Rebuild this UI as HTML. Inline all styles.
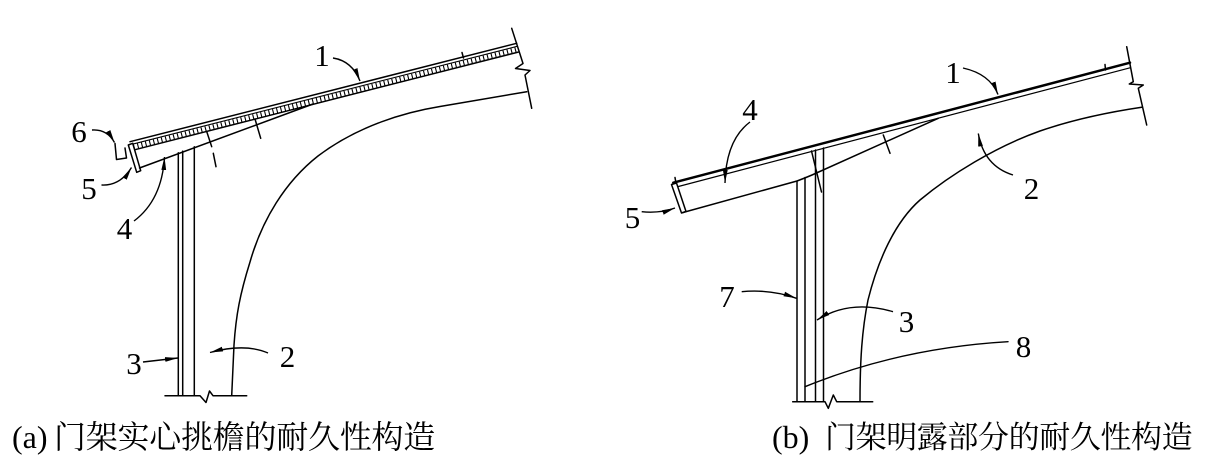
<!DOCTYPE html>
<html>
<head>
<meta charset="utf-8">
<style>
  html, body { margin: 0; padding: 0; background: #fff; }
  #wrap { position: relative; width: 1207px; height: 466px; overflow: hidden; background: #fff; }
  svg { display: block; position: absolute; left: 0; top: 0; }
  .n {
    position: absolute; width: 40px; text-align: center;
    font-family: "Liberation Serif", "Times New Roman", "DejaVu Serif", serif;
    font-size: 31px; line-height: 31px; color: #000; white-space: nowrap;
  }
  .c {
    position: absolute; white-space: nowrap; color: #000;
    font-family: "Liberation Serif", "Noto Serif CJK SC", "Noto Serif CJK TC", "Noto Serif CJK JP", serif;
  }
</style>
</head>
<body>
<div id="wrap">
<svg width="1207" height="466" viewBox="0 0 1207 466" xmlns="http://www.w3.org/2000/svg">
  <defs>
    <marker id="ah" markerUnits="userSpaceOnUse" markerWidth="13" markerHeight="6" viewBox="0 0 13 6" refX="13" refY="3" orient="auto">
      <path d="M0,0.6 L13,3 L0,5.4 z" fill="#000"/>
    </marker>
  </defs>

  <!-- ================= (a) ================= -->
  <g fill="none" stroke="#000" stroke-width="1.5" stroke-linecap="round" stroke-linejoin="round">
    <path d="M130,141.7 L516.7,43.3"/>
    <path d="M132.5,144.2 L517.2,46.3" stroke-width="1.1"/>
    <path d="M133.5,147.1 L517.8,49.3" stroke-width="5" stroke-dasharray="1.1 3" stroke-linecap="butt"/>
    <path d="M134.5,149.8 L518.2,52.1"/>
    <path d="M128.3,145 L132.7,143.3 L140.7,170.7 L136.7,172.3 Z" fill="#fff"/>
    <path d="M115,143.5 L116.5,159.5 L126.5,158 L125,148"/>
    <path d="M139.5,168 L313,104"/>
    <path d="M206.7,131.5 L211.7,146.7"/>
    <path d="M213.3,153.3 L216,166.7"/>
    <path d="M255,119 L260.7,138.3"/>
    <path d="M462,52.5 L463.5,58"/>
    <path d="M178.3,152.7 V395.7"/>
    <path d="M182.7,151.1 V395.7"/>
    <path d="M194.3,146.8 V395.7"/>
    <path d="M526.7,91.7 L440,106.5 C400,113 355,128 318,156 C285,182 262,220 250,262 C240,294 236,315 234,345 L231.7,395.7"/>
    <path d="M511.7,28.3 L523,63.5 L515.5,68.5 L530,70.5 L525,75 L531.7,108.3"/>
    <path d="M165,395.7 L200,395.7 L206,402.5 L209.5,391 L213,395.7 L246.7,395.7"/>
  </g>
  <g fill="none" stroke="#000" stroke-width="1.4">
    <path d="M333,58 Q352,61 360,81" marker-end="url(#ah)"/>
    <path d="M92,130 Q107,129 114.5,142.5" marker-end="url(#ah)"/>
    <path d="M101.5,185 Q120,186 131.5,167.5" marker-end="url(#ah)"/>
    <path d="M134,221 Q162,200 164.5,157" marker-end="url(#ah)"/>
    <path d="M143,362 L178,358" marker-end="url(#ah)"/>
    <path d="M268,353 Q245,343 210,352.5" marker-end="url(#ah)"/>
  </g>

  <!-- ================= (b) ================= -->
  <g fill="none" stroke="#000" stroke-width="1.5" stroke-linecap="round" stroke-linejoin="round">
    <path d="M673.3,182.7 L1130,62.7" stroke-width="2.5"/>
    <path d="M676.5,187 L1130.5,67.7" stroke-width="1.2"/>
    <path d="M675,177.5 L676.3,185"/>
    <path d="M671.5,184.5 L676.5,183 L686,211.5 L681.5,213 Z" fill="#fff"/>
    <path d="M683,212.5 L797,181 Q805,178 812,175 L938.3,118.3"/>
    <path d="M883.3,135 L890,153.3"/>
    <path d="M1105,64.5 L1105.5,70"/>
    <path d="M797,181 V401.7"/>
    <path d="M805,177.5 V401.7"/>
    <path d="M815.5,150 V401.7"/>
    <path d="M823.5,148 V401.7"/>
    <path d="M811.5,151 L821.5,192"/>
    <path d="M1141.7,107.3 C1110,112 1075,119 1040,131 C995,147 950,175 920,200 C895,222 878,260 868,300 C862,330 860,360 860,401.7"/>
    <path d="M1126.7,46.7 L1133.3,81.7 L1129.3,84 L1143.3,85 L1138.3,88.3 L1146.7,125"/>
    <path d="M792.7,401.7 L825,401.7 L828.3,408.3 L833.3,395 L836.7,401.7 L872.7,401.7"/>
    <path d="M1008,341.7 Q900,348 805,386.7" stroke-width="1.4"/>
  </g>
  <g fill="none" stroke="#000" stroke-width="1.4">
    <path d="M963,68 Q990,74 998,94.5" marker-end="url(#ah)"/>
    <path d="M750,122 Q726,140 725,183" marker-end="url(#ah)"/>
    <path d="M641.7,211.7 Q660,213.5 675,208" marker-end="url(#ah)"/>
    <path d="M1013,175 Q984,166 978.3,133.5" marker-end="url(#ah)"/>
    <path d="M741.7,291.7 Q770,289 796.5,298.3" marker-end="url(#ah)"/>
    <path d="M893,311.7 Q850,299 817,320" marker-end="url(#ah)"/>
  </g>
</svg>

<!-- labels (a) -->
<div class="n" style="left:302px;top:39.5px;">1</div>
<div class="n" style="left:59px;top:116px;">6</div>
<div class="n" style="left:69px;top:172.5px;">5</div>
<div class="n" style="left:104.5px;top:213px;">4</div>
<div class="n" style="left:114px;top:347.5px;">3</div>
<div class="n" style="left:267.5px;top:341px;">2</div>

<!-- labels (b) -->
<div class="n" style="left:933px;top:56.5px;">1</div>
<div class="n" style="left:730px;top:93.5px;">4</div>
<div class="n" style="left:612.5px;top:202px;">5</div>
<div class="n" style="left:1011.5px;top:172.5px;">2</div>
<div class="n" style="left:707px;top:280.5px;">7</div>
<div class="n" style="left:886.5px;top:305.5px;">3</div>
<div class="n" style="left:1003.5px;top:330.5px;">8</div>

<!-- captions -->
<div class="c" style="left:12px;top:420.7px;font-size:32px;line-height:32px;">(a)</div>
<div class="c" style="left:54px;top:420.7px;font-size:32px;line-height:32px;letter-spacing:-0.25px;">门架实心挑檐的耐久性构造</div>
<div class="c" style="left:772px;top:420.7px;font-size:32px;line-height:32px;">(b)</div>
<div class="c" style="left:825px;top:421.5px;font-size:31px;line-height:31px;letter-spacing:-0.4px;">门架明露部分的耐久性构造</div>
</div>
</body>
</html>
